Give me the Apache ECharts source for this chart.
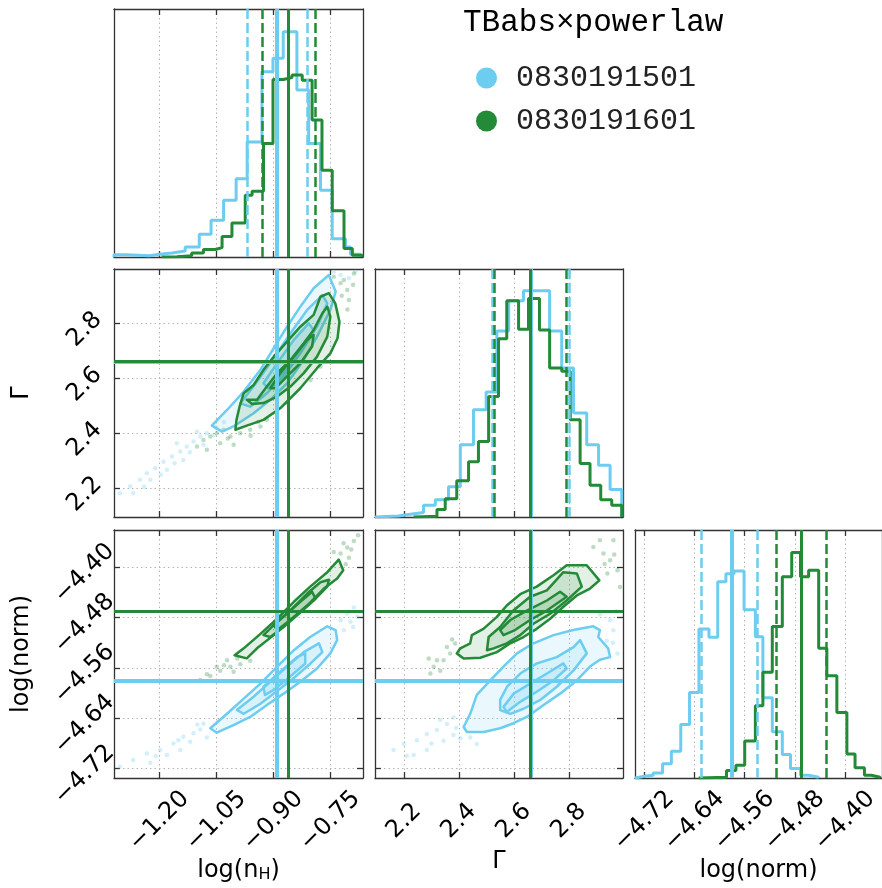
<!DOCTYPE html>
<html><head><meta charset="utf-8">
<script src="https://cdn.jsdelivr.net/npm/echarts@6/dist/echarts.min.js"></script>
<style>html,body{margin:0;padding:0;background:#fff}#c{width:882px;height:888px}</style>
</head><body><div id="c"></div>
<script>
// ---------- ranges & ticks ----------
const nhRange = [-1.3195, -0.664];
const gammaRange = [2.0945, 2.997];
const normRange = [-4.735, -4.341];
const nhTicks = [-1.20, -1.05, -0.90, -0.75];
const gammaTicks = [2.2, 2.4, 2.6, 2.8];
const normTicks = [-4.72, -4.64, -4.56, -4.48, -4.40];
const seriesNames = ['0830191501', '0830191601'];
const titleText = 'TBabs\u00d7powerlaw';

// ---------- best fit (solid) and quantiles (dashed) ----------
const blueBest = [-0.887, 2.659, -4.584];
const greenBest = [-0.857, 2.659, -4.474];
const blueQuant = [[-0.972, -0.805], [2.5175, 2.802], [-4.628, -4.5417]];
const greenQuant = [[-0.9255, -0.785], [2.534, 2.789], [-4.515, -4.434]];

// ---------- 1D histograms ----------
const blueNhEdges = [-1.3195,-1.286,-1.226,-1.200,-1.167,-1.132,-1.095,-1.064,-1.031,-0.998,-0.969,-0.930,-0.901,-0.874,-0.838,-0.807,-0.776,-0.745,-0.710,-0.697,-0.670];
const blueNhHeights = [0.009,0.005,0.011,0.016,0.024,0.040,0.092,0.148,0.229,0.316,0.464,0.747,0.801,0.908,0.673,0.458,0.269,0.074,0.040,0.011];
const greenNhEdges = [-1.194,-1.154,-1.115,-1.084,-1.053,-1.035,-1.009,-0.974,-0.956,-0.926,-0.901,-0.874,-0.851,-0.824,-0.798,-0.772,-0.745,-0.714,-0.692,-0.666];
const greenNhHeights = [0.001,0.005,0.016,0.030,0.038,0.083,0.137,0.249,0.265,0.458,0.716,0.724,0.734,0.713,0.552,0.350,0.186,0.034,0.007];

const blueGammaEdges = [2.0944,2.180,2.223,2.271,2.314,2.362,2.405,2.453,2.499,2.538,2.581,2.635,2.681,2.730,2.774,2.817,2.865,2.908,2.950,2.9925];
const blueGammaHeights = [0.004,0.011,0.018,0.047,0.070,0.122,0.291,0.432,0.504,0.750,0.872,0.912,0.912,0.750,0.601,0.419,0.291,0.209,0.111];
const greenGammaEdges = [2.235,2.320,2.350,2.392,2.435,2.471,2.508,2.544,2.574,2.617,2.653,2.693,2.730,2.774,2.805,2.841,2.877,2.916,2.956,2.9925];
const greenGammaHeights = [0.003,0.030,0.074,0.146,0.223,0.304,0.486,0.719,0.872,0.757,0.881,0.754,0.601,0.588,0.392,0.216,0.128,0.070,0.047];

const blueNormEdges = [-4.735,-4.720,-4.706,-4.691,-4.677,-4.662,-4.648,-4.633,-4.617,-4.603,-4.590,-4.577,-4.561,-4.543,-4.531,-4.516,-4.500,-4.487,-4.471,-4.458,-4.442];
const blueNormHeights = [0.007,0.011,0.020,0.057,0.108,0.216,0.345,0.601,0.568,0.791,0.824,0.835,0.678,0.570,0.324,0.186,0.095,0.038,0.011,0.003];
const greenNormEdges = [-4.6335,-4.589,-4.574,-4.560,-4.543,-4.531,-4.516,-4.500,-4.485,-4.471,-4.458,-4.442,-4.429,-4.413,-4.397,-4.384,-4.369,-4.358,-4.344];
const greenNormHeights = [0.003,0.030,0.051,0.149,0.291,0.426,0.611,0.811,0.909,0.811,0.838,0.523,0.412,0.264,0.097,0.041,0.011,0.003];

// ---------- 2D contours ----------
const blueNhGammaContours = [
 [[-1.062,2.427],[-1.022,2.484],[-0.978,2.551],[-0.934,2.630],[-0.899,2.709],[-0.864,2.787],[-0.829,2.860],[-0.794,2.927],[-0.754,2.975],[-0.736,2.915],[-0.750,2.848],[-0.785,2.751],[-0.820,2.666],[-0.864,2.581],[-0.908,2.521],[-0.952,2.472],[-1.005,2.424],[-1.035,2.405]],
 [[-0.987,2.508],[-0.943,2.587],[-0.899,2.672],[-0.855,2.763],[-0.811,2.848],[-0.771,2.902],[-0.758,2.872],[-0.785,2.787],[-0.829,2.690],[-0.873,2.606],[-0.917,2.545],[-0.961,2.496]],
 [[-0.926,2.581],[-0.890,2.654],[-0.846,2.739],[-0.807,2.799],[-0.794,2.775],[-0.829,2.696],[-0.873,2.618],[-0.913,2.563]]
];
const greenNhGammaContours = [
 [[-1.000,2.412],[-0.970,2.427],[-0.926,2.448],[-0.882,2.490],[-0.829,2.563],[-0.785,2.636],[-0.750,2.690],[-0.731,2.745],[-0.726,2.805],[-0.737,2.872],[-0.754,2.909],[-0.776,2.896],[-0.794,2.830],[-0.829,2.787],[-0.864,2.733],[-0.899,2.678],[-0.926,2.630],[-0.952,2.575],[-0.978,2.545],[-0.989,2.496],[-0.997,2.448]],
 [[-0.970,2.521],[-0.943,2.521],[-0.917,2.569],[-0.890,2.618],[-0.855,2.666],[-0.820,2.727],[-0.794,2.775],[-0.771,2.836],[-0.758,2.860],[-0.750,2.824],[-0.758,2.751],[-0.785,2.678],[-0.820,2.618],[-0.855,2.569],[-0.890,2.533],[-0.926,2.509],[-0.956,2.506]],
 [[-0.908,2.563],[-0.882,2.618],[-0.846,2.678],[-0.811,2.739],[-0.794,2.757],[-0.798,2.715],[-0.829,2.654],[-0.864,2.606],[-0.895,2.563]]
];
const blueNhNormContours = [
 [[-1.066,-4.656],[-1.022,-4.633],[-0.978,-4.609],[-0.934,-4.585],[-0.890,-4.558],[-0.846,-4.532],[-0.803,-4.511],[-0.758,-4.494],[-0.736,-4.500],[-0.732,-4.516],[-0.750,-4.537],[-0.785,-4.561],[-0.829,-4.582],[-0.873,-4.601],[-0.917,-4.619],[-0.961,-4.638],[-1.005,-4.651],[-1.049,-4.663]],
 [[-0.996,-4.627],[-0.952,-4.606],[-0.908,-4.582],[-0.864,-4.558],[-0.820,-4.535],[-0.780,-4.521],[-0.771,-4.535],[-0.802,-4.553],[-0.842,-4.574],[-0.886,-4.595],[-0.934,-4.617],[-0.978,-4.633]],
 [[-0.926,-4.590],[-0.882,-4.566],[-0.838,-4.543],[-0.816,-4.537],[-0.816,-4.553],[-0.856,-4.574],[-0.899,-4.595],[-0.922,-4.603]]
];
const greenNhNormContours = [
 [[-1.002,-4.540],[-0.978,-4.529],[-0.934,-4.506],[-0.890,-4.482],[-0.846,-4.455],[-0.803,-4.431],[-0.758,-4.408],[-0.728,-4.388],[-0.716,-4.405],[-0.732,-4.418],[-0.767,-4.434],[-0.811,-4.461],[-0.855,-4.484],[-0.899,-4.508],[-0.943,-4.529],[-0.970,-4.545]],
 [[-0.926,-4.508],[-0.890,-4.487],[-0.851,-4.466],[-0.811,-4.442],[-0.776,-4.424],[-0.754,-4.420],[-0.758,-4.431],[-0.794,-4.453],[-0.833,-4.474],[-0.873,-4.495],[-0.908,-4.511]],
 [[-0.899,-4.492],[-0.868,-4.476],[-0.829,-4.455],[-0.798,-4.439],[-0.789,-4.450],[-0.820,-4.466],[-0.855,-4.484],[-0.890,-4.500]]
];
const blueGammaNormContours = [
 [[2.417,-4.654],[2.441,-4.633],[2.465,-4.603],[2.514,-4.580],[2.562,-4.558],[2.611,-4.537],[2.671,-4.521],[2.744,-4.508],[2.816,-4.500],[2.889,-4.494],[2.913,-4.500],[2.907,-4.511],[2.943,-4.529],[2.950,-4.543],[2.913,-4.547],[2.877,-4.558],[2.829,-4.580],[2.768,-4.601],[2.708,-4.619],[2.647,-4.638],[2.599,-4.648],[2.550,-4.656],[2.490,-4.662],[2.429,-4.662]],
 [[2.550,-4.611],[2.575,-4.590],[2.623,-4.569],[2.683,-4.553],[2.756,-4.543],[2.817,-4.527],[2.841,-4.516],[2.865,-4.537],[2.817,-4.564],[2.756,-4.590],[2.696,-4.611],[2.635,-4.625],[2.587,-4.633],[2.550,-4.627]],
 [[2.562,-4.622],[2.599,-4.601],[2.659,-4.585],[2.720,-4.569],[2.780,-4.553],[2.792,-4.561],[2.744,-4.580],[2.683,-4.598],[2.623,-4.614],[2.574,-4.630]]
];
const greenGammaNormContours = [
 [[2.392,-4.537],[2.405,-4.529],[2.441,-4.521],[2.447,-4.508],[2.489,-4.498],[2.538,-4.479],[2.574,-4.461],[2.623,-4.443],[2.683,-4.431],[2.744,-4.413],[2.792,-4.397],[2.865,-4.397],[2.911,-4.421],[2.877,-4.434],[2.829,-4.445],[2.780,-4.463],[2.732,-4.482],[2.683,-4.498],[2.635,-4.511],[2.587,-4.521],[2.538,-4.535],[2.478,-4.544],[2.417,-4.545]],
 [[2.502,-4.532],[2.508,-4.511],[2.550,-4.495],[2.598,-4.469],[2.659,-4.447],[2.720,-4.437],[2.780,-4.408],[2.829,-4.410],[2.847,-4.431],[2.792,-4.453],[2.732,-4.474],[2.671,-4.490],[2.623,-4.508],[2.574,-4.521],[2.526,-4.529]],
 [[2.550,-4.500],[2.587,-4.484],[2.647,-4.469],[2.720,-4.453],[2.768,-4.439],[2.792,-4.447],[2.720,-4.469],[2.659,-4.484],[2.604,-4.500],[2.562,-4.508]]
];

// ---------- scatter samples outside contours ----------
const blueNhGammaPts = [[-1.304,2.181],[-1.277,2.206],[-1.251,2.230],[-1.233,2.254],[-1.211,2.272],[-1.189,2.296],[-1.167,2.315],[-1.145,2.333],[-1.128,2.351],[-1.110,2.369],[-1.092,2.387],[-1.075,2.399],[-1.180,2.266],[-1.137,2.302],[-1.224,2.230],[-1.101,2.405],[-1.057,2.393],[-1.154,2.363],[-1.269,2.181],[-1.084,2.357],[-0.723,2.975],[-0.701,2.963],[-0.684,2.987],[-0.741,2.987],[-1.196,2.248],[-1.120,2.330],[-1.160,2.290],[-1.240,2.205],[-1.050,2.420],[-1.030,2.440]];
const greenNhGammaPts = [[-1.101,2.351],[-1.084,2.375],[-1.066,2.387],[-1.049,2.399],[-1.031,2.412],[-1.013,2.387],[-0.987,2.399],[-0.961,2.412],[-0.934,2.424],[-1.075,2.339],[-1.040,2.363],[-0.917,2.448],[-0.741,2.969],[-0.723,2.945],[-0.7055,2.921],[-0.688,2.981],[-0.701,2.884],[-0.7145,2.957],[-0.802,2.593],[-0.776,2.642],[-0.864,2.509],[-1.0046,2.357],[-0.720,2.900],[-0.705,2.850],[-0.690,2.940],[-0.960,2.390],[-1.020,2.380],[-0.940,2.440]];
const blueNhNormPts = [[-1.304,-4.717],[-1.269,-4.7066],[-1.233,-4.696],[-1.198,-4.6906],[-1.163,-4.68],[-1.137,-4.6695],[-1.110,-4.664],[-1.0926,-4.658],[-1.075,-4.6706],[-1.145,-4.6906],[-1.180,-4.6985],[-1.224,-4.7106],[-1.119,-4.6775],[-1.084,-4.649],[-0.723,-4.4843],[-0.7055,-4.4738],[-0.688,-4.4643],[-0.7145,-4.5002],[-0.697,-4.4869],[-0.679,-4.479],[-1.150,-4.675],[-1.210,-4.700],[-1.100,-4.650],[-0.690,-4.495]];
const greenNhNormPts = [[-1.0926,-4.5795],[-1.066,-4.5731],[-1.040,-4.5647],[-1.013,-4.5584],[-0.987,-4.5541],[-0.961,-4.5488],[-1.049,-4.5584],[-1.022,-4.5478],[-1.075,-4.570],[-1.0046,-4.5663],[-0.723,-4.3785],[-0.7055,-4.369],[-0.688,-4.3584],[-0.677,-4.3494],[-0.701,-4.385],[-0.7095,-4.3955],[-0.741,-4.376],[-1.030,-4.556],[-0.995,-4.545],[-0.695,-4.372],[-0.715,-4.362]];
const blueGammaNormPts = [[2.162,-4.6906],[2.199,-4.6811],[2.247,-4.675],[2.283,-4.6652],[2.320,-4.6589],[2.356,-4.6494],[2.283,-4.6906],[2.235,-4.6985],[2.344,-4.6759],[2.380,-4.6668],[2.405,-4.672],[2.332,-4.643],[2.380,-4.6389],[2.441,-4.6706],[2.465,-4.6811],[2.913,-4.4748],[2.950,-4.4843],[2.974,-4.4695],[2.962,-4.5002],[2.938,-4.5171],[2.977,-4.5372],[2.210,-4.700],[2.300,-4.680],[2.390,-4.655],[2.960,-4.520]];
const greenGammaNormPts = [[2.308,-4.5584],[2.344,-4.5478],[2.368,-4.5372],[2.332,-4.5647],[2.356,-4.5267],[2.296,-4.569],[2.386,-4.5214],[2.320,-4.5478],[2.889,-4.368],[2.926,-4.3785],[2.950,-4.389],[2.962,-4.3573],[2.940,-4.4103],[2.977,-4.405],[2.913,-4.3573],[2.986,-4.4314],[2.930,-4.395],[2.965,-4.380],[2.290,-4.545],[2.375,-4.515]];

// ---------- styling ----------
const BLUE = '#6ccdf0';
const GREEN = '#238a37';
const AX = '#333333';
const FONT = 'DejaVu Sans';
const minus = v => (v < 0 ? '\u2212' : '') + Math.abs(v).toFixed(2);
const one = v => (v < 0 ? '\u2212' : '') + Math.abs(v).toFixed(1);

const cols = [{left: 114, width: 249}, {left: 375, width: 248}, {left: 635, width: 249}];
const rows = [{top: 9, height: 248}, {top: 269, height: 248}, {top: 530, height: 248}];
// grid order: 0 hist nH, 1 Γ-nH, 2 hist Γ, 3 norm-nH, 4 norm-Γ, 5 hist norm
const gridPos = [[0,0],[0,1],[1,1],[0,2],[1,2],[2,2]];
const grids = gridPos.map(([c, r]) => ({left: cols[c].left, top: rows[r].top, width: cols[c].width, height: rows[r].height, containLabel: false}));

const nameRich = {sub: {fontSize: 16, fontFamily: FONT, color: '#000', verticalAlign: 'bottom'}};

function xAxes(g, range, ticks, fmt, showLabel, name) {
  const common = {type: 'value', gridIndex: g, min: range[0], max: range[1],
    axisLine: {show: true, onZero: false, lineStyle: {color: AX, width: 1.3}},
    axisTick: {show: true, inside: true, length: 6, customValues: ticks, lineStyle: {color: AX, width: 1.3}}};
  return [
    Object.assign({}, common, {position: 'bottom',
      axisLabel: {show: showLabel, customValues: ticks, formatter: fmt, rotate: 45, align: 'center', verticalAlign: 'middle', margin: 43, fontSize: 24, fontFamily: FONT, color: '#000'},
      splitLine: {show: true, lineStyle: {type: [1.5, 3], color: '#b5b5b5', width: 1}},
      name: name || '', nameLocation: 'middle', nameGap: 72,
      nameTextStyle: {fontSize: 24, fontFamily: FONT, color: '#000', rich: nameRich}}),
    Object.assign({}, common, {position: 'top', axisLabel: {show: false}, splitLine: {show: false}})
  ];
}
function yAxes(g, range, ticks, fmt, showLabel, name) {
  const isHist = !ticks;
  const common = {type: 'value', gridIndex: g, min: range[0], max: range[1],
    axisLine: {show: true, onZero: false, lineStyle: {color: AX, width: 1.3}},
    axisTick: isHist ? {show: false} : {show: true, inside: true, length: 6, customValues: ticks, lineStyle: {color: AX, width: 1.3}}};
  return [
    Object.assign({}, common, {position: 'left',
      axisLabel: isHist ? {show: false} : {show: showLabel, customValues: ticks, formatter: fmt, rotate: 45, align: 'center', verticalAlign: 'middle', margin: 23, padding: [18, 18, 0, 0], fontSize: 24, fontFamily: FONT, color: '#000'},
      splitLine: isHist ? {show: false} : {show: true, lineStyle: {type: [1.5, 3], color: '#b5b5b5', width: 1}},
      name: name || '', nameLocation: 'middle', nameGap: 80,
      nameTextStyle: {fontSize: 24, fontFamily: FONT, color: '#000'}}),
    Object.assign({}, common, {position: 'right', axisLabel: {show: false}, splitLine: {show: false}})
  ];
}

const xAxis = [].concat(
  xAxes(0, nhRange, nhTicks, minus, false),
  xAxes(1, nhRange, nhTicks, minus, false),
  xAxes(2, gammaRange, gammaTicks, one, false),
  xAxes(3, nhRange, nhTicks, minus, true, 'log(n{sub|H})'),
  xAxes(4, gammaRange, gammaTicks, one, true, '\u0393'),
  xAxes(5, normRange, normTicks, minus, true, 'log(norm)')
);
const yAxis = [].concat(
  yAxes(0, [0, 1], null),
  yAxes(1, gammaRange, gammaTicks, one, true, '\u0393'),
  yAxes(2, [0, 1], null),
  yAxes(3, normRange, normTicks, minus, true, 'log(norm)'),
  yAxes(4, normRange, normTicks, minus, false),
  yAxes(5, [0, 1], null)
);

function stepPoints(edges, heights) {
  const pts = [[edges[0], 0]];
  for (let i = 0; i < heights.length; i++) { pts.push([edges[i], heights[i]]); pts.push([edges[i + 1], heights[i]]); }
  pts.push([edges[edges.length - 1], 0]);
  return pts;
}
function vline(v, color, dashed) {
  return {xAxis: v, lineStyle: {color: color, width: dashed ? 2.5 : (color === BLUE ? 4 : 3), type: dashed ? [10, 4] : 'solid'}};
}
function histSeries(g, name, edges, heights, color, q, best, z) {
  return {type: 'line', name: name, xAxisIndex: 2 * g, yAxisIndex: 2 * g, data: stepPoints(edges, heights),
    showSymbol: false, symbol: 'none', clip: true, z: z, animation: false, silent: true,
    lineStyle: {color: color, width: 3}, itemStyle: {color: color},
    markLine: {silent: true, symbol: ['none', 'none'], label: {show: false}, animation: false,
      data: [vline(q[0], color, true), vline(q[1], color, true), vline(best, color, false)]}};
}
function scatterSeries(g, pts, color) {
  return {type: 'scatter', xAxisIndex: 2 * g, yAxisIndex: 2 * g, data: pts, symbolSize: 4.5,
    itemStyle: {color: color, opacity: 0.3}, silent: true, animation: false, z: 1};
}
function contourSeries(g, polys, color, fill, z) {
  return {type: 'custom', xAxisIndex: 2 * g, yAxisIndex: 2 * g, coordinateSystem: 'cartesian2d',
    data: polys.map(p => p[0]), clip: true, silent: true, animation: false, z: z,
    renderItem: (params, api) => {
      const pts = polys[params.dataIndex].map(p => api.coord(p));
      pts.push(pts[0]);
      return {type: 'polygon', shape: {points: pts}, style: {fill: fill, stroke: color, lineWidth: 2.5, lineJoin: 'round'}};
    }};
}
function truthSeries(g, xv, yv, color, z) {
  const w = color === BLUE ? 4 : 3;
  return {type: 'line', xAxisIndex: 2 * g, yAxisIndex: 2 * g, data: [], silent: true, animation: false, z: z,
    markLine: {silent: true, symbol: ['none', 'none'], label: {show: false}, animation: false,
      data: [{xAxis: xv, lineStyle: {color: color, width: w, type: 'solid'}}, {yAxis: yv, lineStyle: {color: color, width: w, type: 'solid'}}]}};
}

const BF = 'rgba(108,205,240,0.14)';
const GF = 'rgba(35,138,55,0.13)';

const series = [
  histSeries(0, seriesNames[0], blueNhEdges, blueNhHeights, BLUE, blueQuant[0], blueBest[0], 2),
  histSeries(0, seriesNames[1], greenNhEdges, greenNhHeights, GREEN, greenQuant[0], greenBest[0], 3),
  histSeries(2, seriesNames[0], blueGammaEdges, blueGammaHeights, BLUE, blueQuant[1], blueBest[1], 2),
  histSeries(2, seriesNames[1], greenGammaEdges, greenGammaHeights, GREEN, greenQuant[1], greenBest[1], 3),
  histSeries(5, seriesNames[0], blueNormEdges, blueNormHeights, BLUE, blueQuant[2], blueBest[2], 2),
  histSeries(5, seriesNames[1], greenNormEdges, greenNormHeights, GREEN, greenQuant[2], greenBest[2], 3),

  scatterSeries(1, blueNhGammaPts, BLUE), scatterSeries(1, greenNhGammaPts, GREEN),
  scatterSeries(3, blueNhNormPts, BLUE), scatterSeries(3, greenNhNormPts, GREEN),
  scatterSeries(4, blueGammaNormPts, BLUE), scatterSeries(4, greenGammaNormPts, GREEN),

  contourSeries(1, blueNhGammaContours, BLUE, BF, 2), contourSeries(1, greenNhGammaContours, GREEN, GF, 3),
  contourSeries(3, blueNhNormContours, BLUE, BF, 2), contourSeries(3, greenNhNormContours, GREEN, GF, 3),
  contourSeries(4, blueGammaNormContours, BLUE, BF, 2), contourSeries(4, greenGammaNormContours, GREEN, GF, 3),

  truthSeries(1, blueBest[0], blueBest[1], BLUE, 4), truthSeries(1, greenBest[0], greenBest[1], GREEN, 5),
  truthSeries(3, blueBest[0], blueBest[2], BLUE, 4), truthSeries(3, greenBest[0], greenBest[2], GREEN, 5),
  truthSeries(4, blueBest[1], blueBest[2], BLUE, 4), truthSeries(4, greenBest[1], greenBest[2], GREEN, 5)
];

const chart = echarts.init(document.getElementById('c'), null, {renderer: 'canvas'});
chart.setOption({
  animation: false,
  backgroundColor: '#fff',
  title: {text: titleText, left: 458, top: 2,
    textStyle: {fontFamily: 'Liberation Mono', fontSize: 31, fontWeight: 'normal', color: '#000'}},
  legend: {data: seriesNames.map(n => ({name: n, icon: 'circle'})), orient: 'vertical', left: 471, top: 58,
    itemWidth: 21, itemHeight: 21, itemGap: 13, selectedMode: false,
    textStyle: {fontFamily: 'Liberation Mono', fontSize: 30, lineHeight: 30, color: '#222', padding: [0, 0, 0, 14]}},
  grid: grids,
  xAxis: xAxis,
  yAxis: yAxis,
  series: series
});
</script></body></html>
